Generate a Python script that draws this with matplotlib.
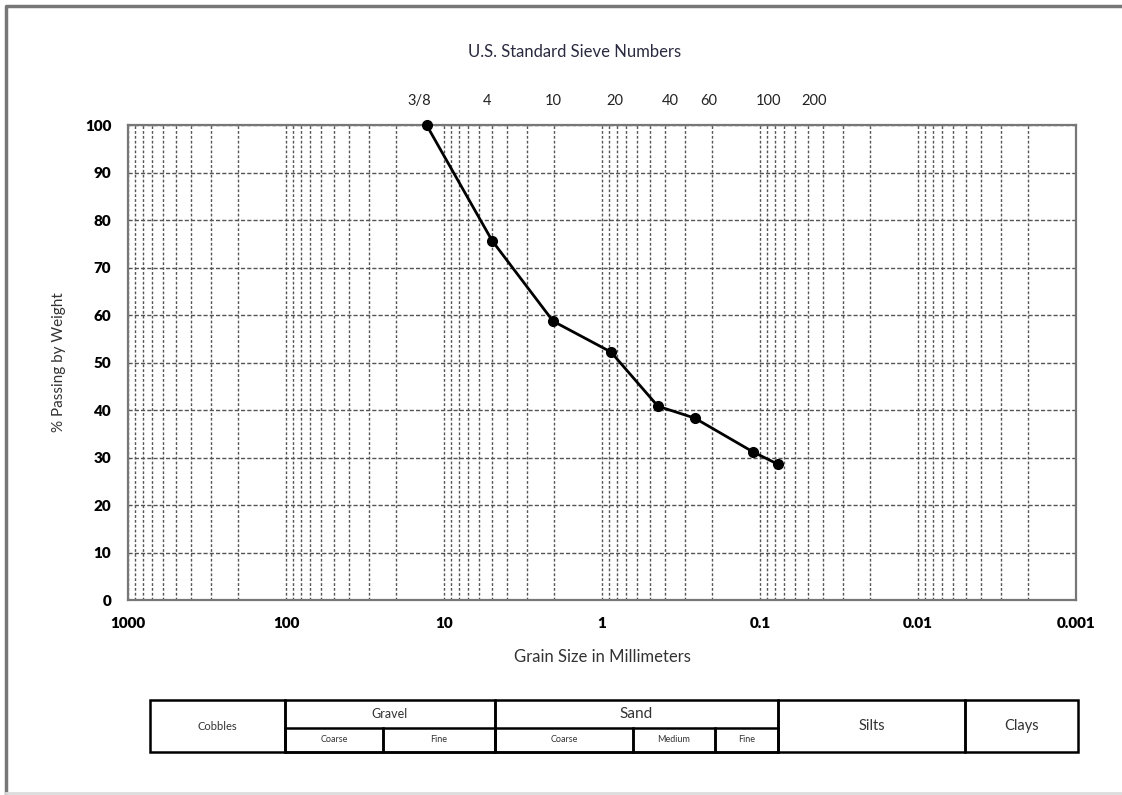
import numpy as np
import matplotlib
matplotlib.use('Agg')
import matplotlib.pyplot as plt
from matplotlib.ticker import FixedLocator, NullLocator, LogLocator, NullFormatter
from matplotlib.patches import Rectangle

plt.rcParams['font.family'] = ['Lato', 'DejaVu Sans']

# grain size distribution
grain_size = [12.9, 4.95, 2.04, 0.877, 0.443, 0.259, 0.111, 0.0773]   # mm
passing = [100, 75.6, 58.7, 52.2, 40.8, 38.3, 31.2, 28.6]          # %

# sieve numbers along the top
sieve_labels = ['3/8', '4', '10', '20', '40', '60', '100', '200']
sieve_pos = [14.3, 5.32, 2.04, 0.83, 0.371, 0.211, 0.0881, 0.0458]

x_ticks = [1000, 100, 10, 1, 0.1, 0.01, 0.001]
x_ticklabels = ['1000', '100', '10', '1', '0.1', '0.01', '0.001']
y_ticks = list(range(0, 101, 10))

# soil classification table (figure pixel columns)
top_cols = [(150, 285, 'Cobbles'), (285, 495, 'Gravel'), (495, 778, 'Sand'),
            (778, 965, 'Silts'), (965, 1078, 'Clays')]
sub_cols = [(285, 383, 'Coarse'), (383, 495, 'Fine'), (495, 633, 'Coarse'),
            (633, 715, 'Medium'), (715, 778, 'Fine')]

W, H = 1122, 795
fig = plt.figure(figsize=(W / 100, H / 100), dpi=100)
ax = fig.add_axes([128 / W, 1 - 600 / H, 948 / W, 475 / H])

ax.set_xscale('log')
ax.set_xlim(1000, 0.001)
ax.set_ylim(0, 100)

ax.plot(grain_size, passing, color='black', lw=2, marker='o', ms=7,
        zorder=5, clip_on=False)

ax.xaxis.set_major_locator(FixedLocator(x_ticks))
ax.set_xticklabels(x_ticklabels, fontweight='heavy', fontsize=11)
ax.xaxis.set_minor_locator(LogLocator(base=10, subs=np.arange(2, 10)))
ax.xaxis.set_minor_formatter(NullFormatter())
ax.set_yticks(y_ticks)
ax.set_yticklabels([str(v) for v in y_ticks], fontweight='heavy', fontsize=11)
ax.tick_params(which='both', length=0)
ax.tick_params(axis='x', pad=12)
ax.tick_params(axis='y', pad=12)

ax.grid(True, which='both', axis='x', ls=(0, (2, 1.5)), color='#555555', lw=1)
ax.grid(True, which='major', axis='y', ls=(0, (3, 1.5)), color='#555555', lw=1)
for s in ax.spines.values():
    s.set_color('#777777')
    s.set_linewidth(1.6)

ax.set_xlabel('Grain Size in Millimeters', fontsize=12, color='#333333', labelpad=14)
ax.set_ylabel('% Passing by Weight', fontsize=11, color='#333333', labelpad=14)

top = ax.twiny()
top.set_xscale('log')
top.set_xlim(ax.get_xlim())
top.xaxis.set_major_locator(FixedLocator(sieve_pos))
top.xaxis.set_minor_locator(NullLocator())
top.set_xticklabels(sieve_labels, fontsize=10.5, color='#222222')
top.tick_params(length=0, pad=12)
for s in top.spines.values():
    s.set_visible(False)

fig.text(575 / W, 1 - 52 / H, 'U.S. Standard Sieve Numbers', ha='center',
         va='center', fontsize=12, color='#2a2a40')

# table with soil classes
tax = fig.add_axes([0, 0, 1, 1])
tax.set_xlim(0, W)
tax.set_ylim(H, 0)
tax.axis('off')
t_top, t_mid, t_bot = 700, 728, 752
for x0, x1, name in top_cols:
    tax.add_patch(Rectangle((x0, t_top), x1 - x0, t_bot - t_top, fill=False,
                            ec='black', lw=1.8))
    if name in ('Gravel', 'Sand'):
        tax.text((x0 + x1) / 2, (t_top + t_mid) / 2, name, ha='center',
                 va='center', fontsize=9 if name == 'Gravel' else 11, color='#333333')
    else:
        tax.text((x0 + x1) / 2, (t_top + t_bot) / 2, name, ha='center',
                 va='center', fontsize=8 if name == 'Cobbles' else 10.5, color='#333333')
for x0, x1, name in sub_cols:
    tax.add_patch(Rectangle((x0, t_mid), x1 - x0, t_bot - t_mid, fill=False,
                            ec='black', lw=1.8))
    tax.text((x0 + x1) / 2, (t_mid + t_bot) / 2, name, ha='center', va='center',
             fontsize=6.5, color='#333333')

# outer frame of the page
tax.plot([6, 6, W], [H - 2, 6, 6], color='#777777', lw=2.5)
tax.plot([6, W], [H - 2, H - 2], color='#dddddd', lw=2)

fig.savefig('out.png', dpi=100)
